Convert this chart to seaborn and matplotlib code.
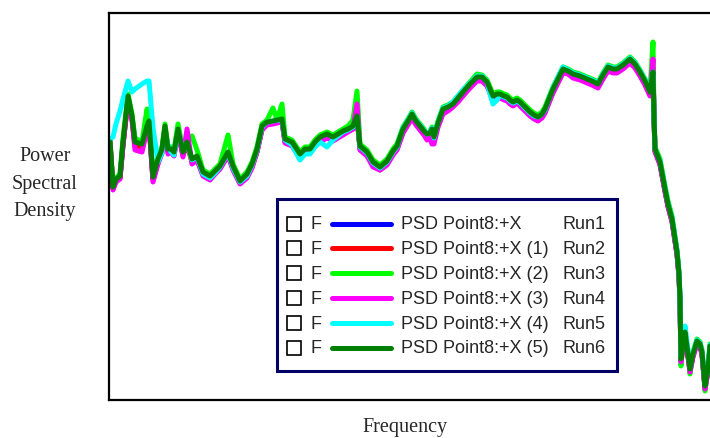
import matplotlib
matplotlib.use("Agg")
import matplotlib.pyplot as plt
import seaborn as sns
from matplotlib.patches import Rectangle
from matplotlib.lines import Line2D

# ---------------- data (arbitrary units) ----------------
freq = [1, 4, 7, 11, 14, 19, 23, 26, 33, 38,
        40, 44, 49, 53, 56, 59, 62, 65, 69, 74,
        78, 83, 88, 94, 101, 106, 111, 119, 124, 131,
        138, 143, 148, 153, 158, 164, 168, 173, 176, 183, 191,
        196, 201, 206, 211, 218, 224, 229, 234, 239, 244,
        248, 251, 258, 264, 271, 278, 284, 288, 294, 299,
        303, 307, 311, 315, 318, 321, 323, 325, 329, 334,
        339, 344, 349, 354, 361, 368, 373, 378, 381, 384,
        388, 391, 395, 398, 401, 404, 408, 411, 416, 421,
        425, 429, 433, 436, 440, 444, 449, 454, 459, 464,
        471, 478, 483, 489, 494, 499, 504, 508, 514, 521,
        526, 531, 536, 541, 544, 545, 546, 551, 556, 559,
        563, 568, 570, 571, 572, 574, 576, 579, 581, 584,
        588, 591, 593, 596, 599, 601]

run1 = [257, 212, 220, 223, 256, 302, 282, 256, 254, 272,
        277, 222, 240, 249, 272, 249, 250, 246, 269, 246,
        256, 240, 242, 227, 223, 228, 233, 246, 233, 218,
        225, 235, 249, 272, 277, 278, 279, 280, 260, 256, 245,
        250, 249, 256, 261, 264, 262, 264, 267, 270, 272,
        283, 252, 246, 236, 232, 237, 247, 252, 269, 277,
        284, 278, 272, 267, 264, 265, 269, 261, 275, 289,
        292, 295, 300, 306, 314, 321, 321, 316, 310, 303,
        304, 305, 302, 301, 299, 296, 299, 296, 291, 286,
        284, 281, 284, 289, 299, 309, 319, 329, 328, 324,
        322, 319, 317, 314, 323, 331, 329, 329, 333, 339,
        334, 326, 317, 306, 330, 283, 250, 237, 210, 195,
        180, 147, 125, 100, 40, 55, 67, 45, 30, 45,
        58, 55, 47, 13, 30, 53]

run2 = [260, 212, 219, 222, 255, 301, 281, 255, 253, 271,
        276, 220, 238, 248, 271, 248, 249, 245, 268, 245,
        255, 238, 241, 225, 221, 226, 232, 245, 231, 217,
        224, 233, 248, 271, 276, 277, 278, 279, 258, 255, 243,
        248, 248, 255, 260, 263, 261, 263, 266, 269, 271,
        282, 251, 245, 235, 230, 236, 246, 251, 268, 276,
        283, 276, 271, 266, 263, 264, 268, 260, 274, 288,
        290, 294, 299, 305, 313, 320, 320, 315, 308, 301,
        303, 303, 301, 300, 297, 295, 298, 295, 290, 285,
        282, 280, 283, 288, 298, 308, 318, 328, 327, 323,
        321, 318, 316, 313, 322, 330, 328, 328, 332, 338,
        333, 325, 316, 305, 332, 282, 249, 236, 209, 194,
        179, 146, 124, 99, 39, 54, 66, 44, 29, 44,
        57, 54, 46, 12, 29, 52]

run3 = [259, 214, 222, 226, 262, 306, 286, 262, 258, 291,
        284, 225, 243, 253, 276, 253, 253, 250, 276, 250,
        260, 264, 250, 230, 226, 231, 236, 265, 236, 221,
        228, 238, 253, 276, 280, 292, 280, 296, 263, 260, 248,
        253, 253, 260, 265, 268, 265, 268, 271, 274, 280,
        309, 256, 250, 240, 235, 241, 251, 256, 273, 281,
        288, 281, 276, 271, 262, 269, 273, 265, 279, 293,
        295, 298, 304, 310, 318, 326, 325, 320, 313, 306,
        308, 308, 306, 305, 302, 300, 302, 300, 295, 290,
        287, 285, 288, 293, 303, 313, 323, 333, 331, 328,
        326, 323, 321, 318, 327, 335, 333, 333, 337, 343,
        338, 330, 321, 310, 358, 286, 253, 241, 214, 199,
        184, 150, 128, 103, 34, 58, 70, 48, 26, 48,
        61, 58, 50, 9, 33, 56]

run4 = [256, 210, 218, 221, 255, 300, 280, 250, 248, 270,
        276, 218, 236, 247, 270, 246, 248, 244, 268, 243,
        271, 236, 240, 224, 220, 226, 231, 244, 230, 216,
        222, 232, 248, 270, 275, 276, 277, 278, 257, 254, 242,
        247, 247, 254, 258, 262, 259, 262, 265, 268, 271,
        296, 250, 244, 233, 230, 235, 245, 250, 267, 275,
        282, 275, 270, 265, 260, 262, 256, 256, 273, 286,
        289, 293, 298, 304, 312, 319, 319, 314, 307, 300,
        302, 302, 300, 299, 296, 294, 297, 294, 289, 284,
        281, 279, 282, 287, 297, 307, 317, 327, 326, 322,
        320, 317, 315, 312, 321, 329, 327, 327, 331, 337,
        332, 324, 315, 304, 341, 281, 248, 235, 208, 193,
        178, 145, 123, 98, 38, 53, 65, 43, 28, 43,
        56, 53, 45, 11, 28, 51]

run5 = [261, 263, 276, 289, 301, 319, 308, 311, 316, 319,
        319, 272, 238, 247, 268, 255, 248, 245, 270, 250,
        256, 240, 243, 226, 222, 227, 233, 247, 232, 218,
        224, 235, 250, 273, 278, 279, 280, 280, 260, 255, 240,
        246, 246, 253, 258, 253, 260, 264, 268, 270, 273,
        283, 253, 247, 237, 232, 238, 248, 253, 272, 280,
        287, 280, 275, 270, 266, 268, 272, 262, 278, 292,
        294, 298, 304, 310, 317, 324, 324, 318, 306, 296,
        300, 305, 303, 302, 299, 297, 299, 297, 292, 287,
        284, 283, 286, 290, 301, 312, 323, 333, 330, 327,
        325, 322, 320, 317, 326, 334, 332, 332, 336, 342,
        337, 329, 320, 309, 328, 283, 251, 239, 212, 197,
        182, 149, 127, 102, 42, 60, 74, 50, 33, 47,
        60, 57, 49, 16, 32, 55]

run6 = [258, 213, 221, 224, 258, 304, 284, 258, 256, 274,
        279, 223, 241, 251, 274, 251, 251, 248, 271, 248,
        258, 241, 244, 228, 224, 229, 234, 248, 234, 219,
        226, 236, 251, 274, 278, 279, 280, 281, 261, 258, 246,
        251, 251, 258, 263, 266, 263, 266, 269, 271, 274,
        284, 254, 248, 238, 233, 239, 249, 254, 271, 279,
        286, 279, 274, 269, 266, 267, 271, 263, 277, 291,
        293, 296, 302, 308, 316, 323, 323, 318, 311, 304,
        306, 306, 304, 303, 300, 298, 300, 298, 293, 288,
        285, 283, 286, 291, 301, 311, 321, 331, 329, 326,
        324, 321, 319, 316, 325, 333, 331, 331, 335, 341,
        336, 328, 319, 308, 328, 284, 251, 238, 211, 196,
        181, 148, 126, 101, 41, 56, 68, 46, 31, 46,
        59, 56, 48, 14, 31, 54]

runs = [run1, run2, run3, run4, run5, run6]
series_labels = ["PSD Point8:+X", "PSD Point8:+X (1)", "PSD Point8:+X (2)",
                 "PSD Point8:+X (3)", "PSD Point8:+X (4)", "PSD Point8:+X (5)"]
run_names = ["Run1", "Run2", "Run3", "Run4", "Run5", "Run6"]
colors = ["#0000ff", "#ff0000", "#00ff00", "#ff00ff", "#00ffff", "#007f00"]

# ---------------- figure ----------------
sns.set_style("white")
plt.rcParams['font.family'] = ['Liberation Sans', 'DejaVu Sans']

W, H = 710, 439
fig = plt.figure(figsize=(W / 100, H / 100), dpi=100)
ax = fig.add_axes([109 / W, 1 - 401 / H, (713 - 109) / W, (401 - 14) / H])

for vals, col in zip(runs, colors):
    sns.lineplot(x=freq, y=vals, color=col, linewidth=3.6, ax=ax,
                 solid_joinstyle='round', solid_capstyle='round')

ax.set_xlim(0, 604)
ax.set_ylim(0, 387)
ax.set_xticks([])
ax.set_yticks([])
ax.set_xlabel('')
ax.set_ylabel('')
for s in ax.spines.values():
    s.set_color('black')
    s.set_linewidth(1.6)

serif = ['Liberation Serif', 'DejaVu Serif']
fig.text(45 / W, 1 - 184 / H, "Power\nSpectral\nDensity", ha='center', va='center',
         family=serif, fontsize=14.5, linespacing=1.58)
fig.text(405 / W, 1 - 428 / H, "Frequency", ha='center', va='center',
         family=serif, fontsize=14.5)

# ---------------- legend (drawn manually) ----------------
def fx(x):
    return x / W

def fy(y):
    return 1 - y / H

box = Rectangle((fx(277), fy(372)), (617 - 277) / W, (372 - 200) / H,
                transform=fig.transFigure, facecolor='white', edgecolor='#000066',
                linewidth=2.2, zorder=5)
fig.add_artist(box)

for i, (lab, rn, col) in enumerate(zip(series_labels, run_names, colors)):
    yc = 224.5 + i * 24.9
    cb = Rectangle((fx(287), fy(yc + 7)), 14 / W, 14 / H, transform=fig.transFigure,
                   facecolor='white', edgecolor='black', linewidth=1.2, zorder=6)
    fig.add_artist(cb)
    fig.text(fx(311), fy(yc), "F", ha='left', va='center', fontsize=13, zorder=7)
    ln = Line2D([fx(332), fx(391)], [fy(yc), fy(yc)], transform=fig.transFigure,
                color=col, linewidth=3.6, solid_capstyle='round', zorder=7)
    fig.add_artist(ln)
    fig.text(fx(401), fy(yc), lab, ha='left', va='center', fontsize=13, zorder=7)
    fig.text(fx(562), fy(yc), rn, ha='left', va='center', fontsize=13, zorder=7)

fig.savefig("out.png", dpi=100)
